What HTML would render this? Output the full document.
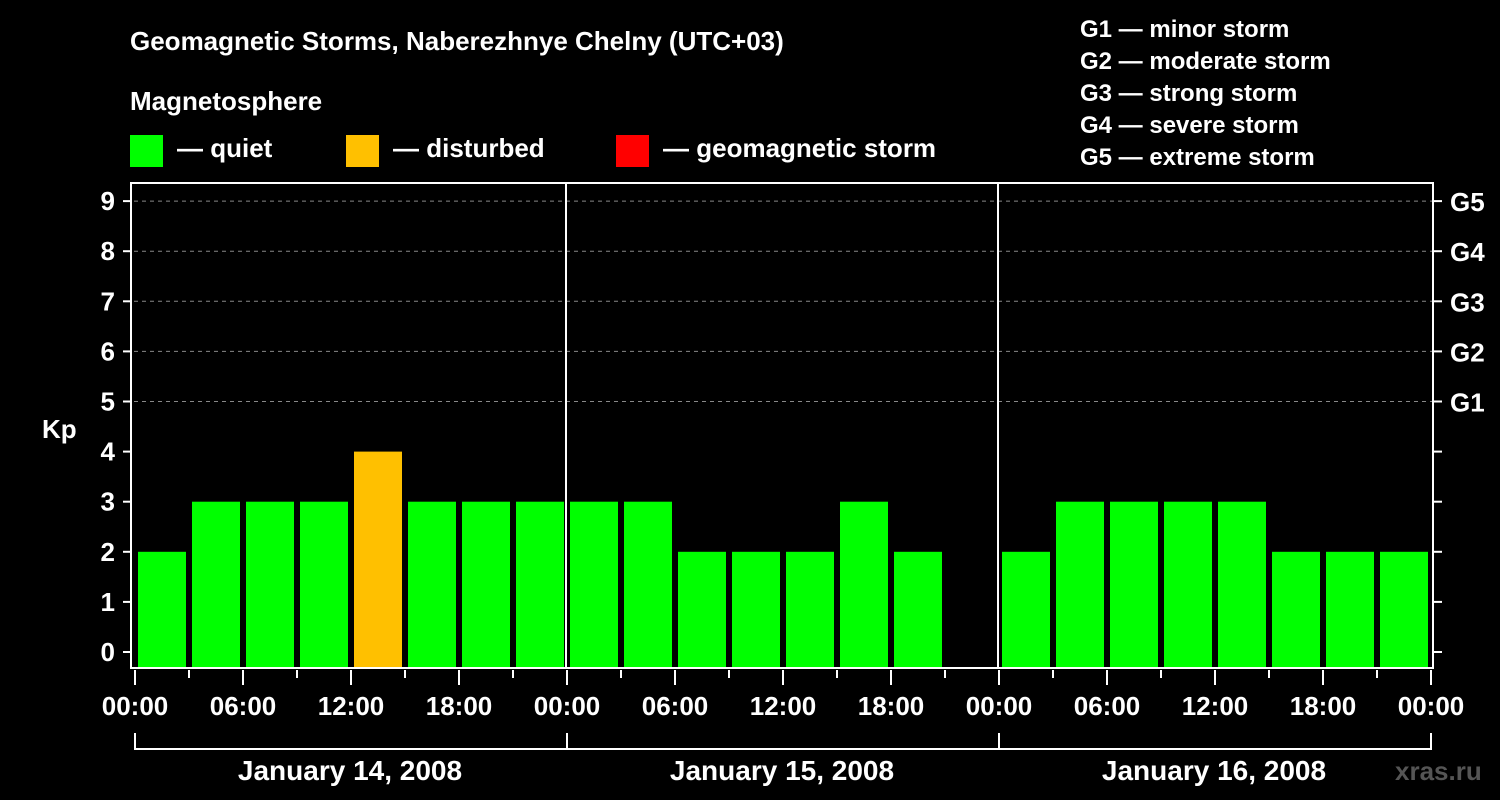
<!DOCTYPE html>
<html><head><meta charset="utf-8"><style>
html,body{margin:0;padding:0;background:#000;}
svg{display:block;font-family:"Liberation Sans",sans-serif;font-weight:bold;}
</style></head><body>
<svg id="chart" width="1500" height="800" viewBox="0 0 1500 800">
<rect width="1500" height="800" fill="#000"/>
<text x="130" y="50" fill="#fff" font-size="26">Geomagnetic Storms, Naberezhnye Chelny (UTC+03)</text>
<text x="130" y="110" fill="#fff" font-size="26">Magnetosphere</text>
<g><rect x="130" y="135" width="33" height="32" fill="#00ff00"/><text x="177" y="157" fill="#fff" font-size="26">— quiet</text></g>
<g><rect x="346" y="135" width="33" height="32" fill="#ffc000"/><text x="393" y="157" fill="#fff" font-size="26">— disturbed</text></g>
<g><rect x="616" y="135" width="33" height="32" fill="#ff0000"/><text x="663" y="157" fill="#fff" font-size="26">— geomagnetic storm</text></g>
<g fill="#fff" font-size="24">
<text x="1080" y="37">G1 — minor storm</text>
<text x="1080" y="69">G2 — moderate storm</text>
<text x="1080" y="101">G3 — strong storm</text>
<text x="1080" y="133">G4 — severe storm</text>
<text x="1080" y="165">G5 — extreme storm</text>
</g>
<text x="42" y="438" fill="#fff" font-size="26">Kp</text>
<text x="1395" y="780" fill="#555" font-size="26">xras.ru</text>
<g id="grid"></g><g id="bars"></g><g id="axes"></g>
</svg>
<script>
const dayLabels = ["January 14, 2008","January 15, 2008","January 16, 2008"];
const kpValues = [2,3,3,3,4,3,3,3, 3,3,2,2,2,3,2,null, 2,3,3,3,3,2,2,2];
const yTicks = [0,1,2,3,4,5,6,7,8,9];
const gLabels = ["G1","G2","G3","G4","G5"];
const hourLabels = ["00:00","06:00","12:00","18:00"];

const NS="http://www.w3.org/2000/svg";
const L=134, R=1430, TOP=183, BOT=668;
const dayW=(R-L)/3, slot=dayW/8;
const y = v => 652 - 50.1*v;
const x = i => L + i*slot;
function mk(tag,attrs,parent){const e=document.createElementNS(NS,tag);for(const k in attrs)e.setAttribute(k,attrs[k]);parent.appendChild(e);return e;}
const grid=document.getElementById('grid'), bars=document.getElementById('bars'), axes=document.getElementById('axes');

yTicks.forEach(v=>{
  if(v>=5){const g=mk('line',{x1:L,x2:1433,y1:y(v),y2:y(v),stroke:'#888','stroke-dasharray':'4,4','stroke-width':1},grid);
  
  }
  const t=mk('line',{x1:123,x2:131,y1:y(v),y2:y(v),stroke:'#fff','stroke-width':2},axes);
  
  
  const lb=mk('text',{x:115,y:y(v)+9,fill:'#fff','font-size':26,'text-anchor':'end'},axes);
  lb.textContent=v;
  
  
  const rt=mk('line',{x1:1434,x2:1442,y1:y(v),y2:y(v),stroke:'#fff','stroke-width':2},axes);
  
  
  if(v>=5){const gl=mk('text',{x:1450,y:y(v)+10,fill:'#fff','font-size':26},axes);
  gl.textContent=gLabels[v-5];
  
  }
});

kpValues.forEach((v,i)=>{
  if(v===null)return;
  const c = v>=5?'#ff0000':(v>=4?'#ffc000':'#00ff00');
  const b=mk('rect',{x:x(i)+4,y:y(v),width:slot-6,height:BOT-y(v),fill:c},bars);
  
  
});

const frame=mk('rect',{x:131,y:TOP,width:1433-131,height:BOT-TOP,fill:'none',stroke:'#fff','stroke-width':2},axes);


for(let d=1;d<3;d++){const s=mk('line',{x1:L+d*dayW,x2:L+d*dayW,y1:TOP,y2:BOT,stroke:'#fff','stroke-width':2},axes);

}
for(let i=0;i<=24;i++){
  const major=i%2===0;
  const t=mk('line',{x1:x(i)+1,x2:x(i)+1,y1:670,y2:major?685:678,stroke:'#fff','stroke-width':2},axes);
  
  
  if(major){const lb=mk('text',{x:x(i)+1,y:715,fill:'#fff','font-size':26,'text-anchor':'middle'},axes);
  lb.textContent=hourLabels[(i/2)%4];
  
  }
}
const br=mk('line',{x1:L+1,x2:R+1,y1:749,y2:749,stroke:'#fff','stroke-width':2},axes);


for(let d=0;d<=3;d++){const v=mk('line',{x1:L+d*dayW+1,x2:L+d*dayW+1,y1:733,y2:750,stroke:'#fff','stroke-width':2},axes);

}
dayLabels.forEach((s,d)=>{const t=mk('text',{x:L+(d+0.5)*dayW,y:780,fill:'#fff','font-size':28,'text-anchor':'middle'},axes);
t.textContent=s;

});
</script>
</body></html>
